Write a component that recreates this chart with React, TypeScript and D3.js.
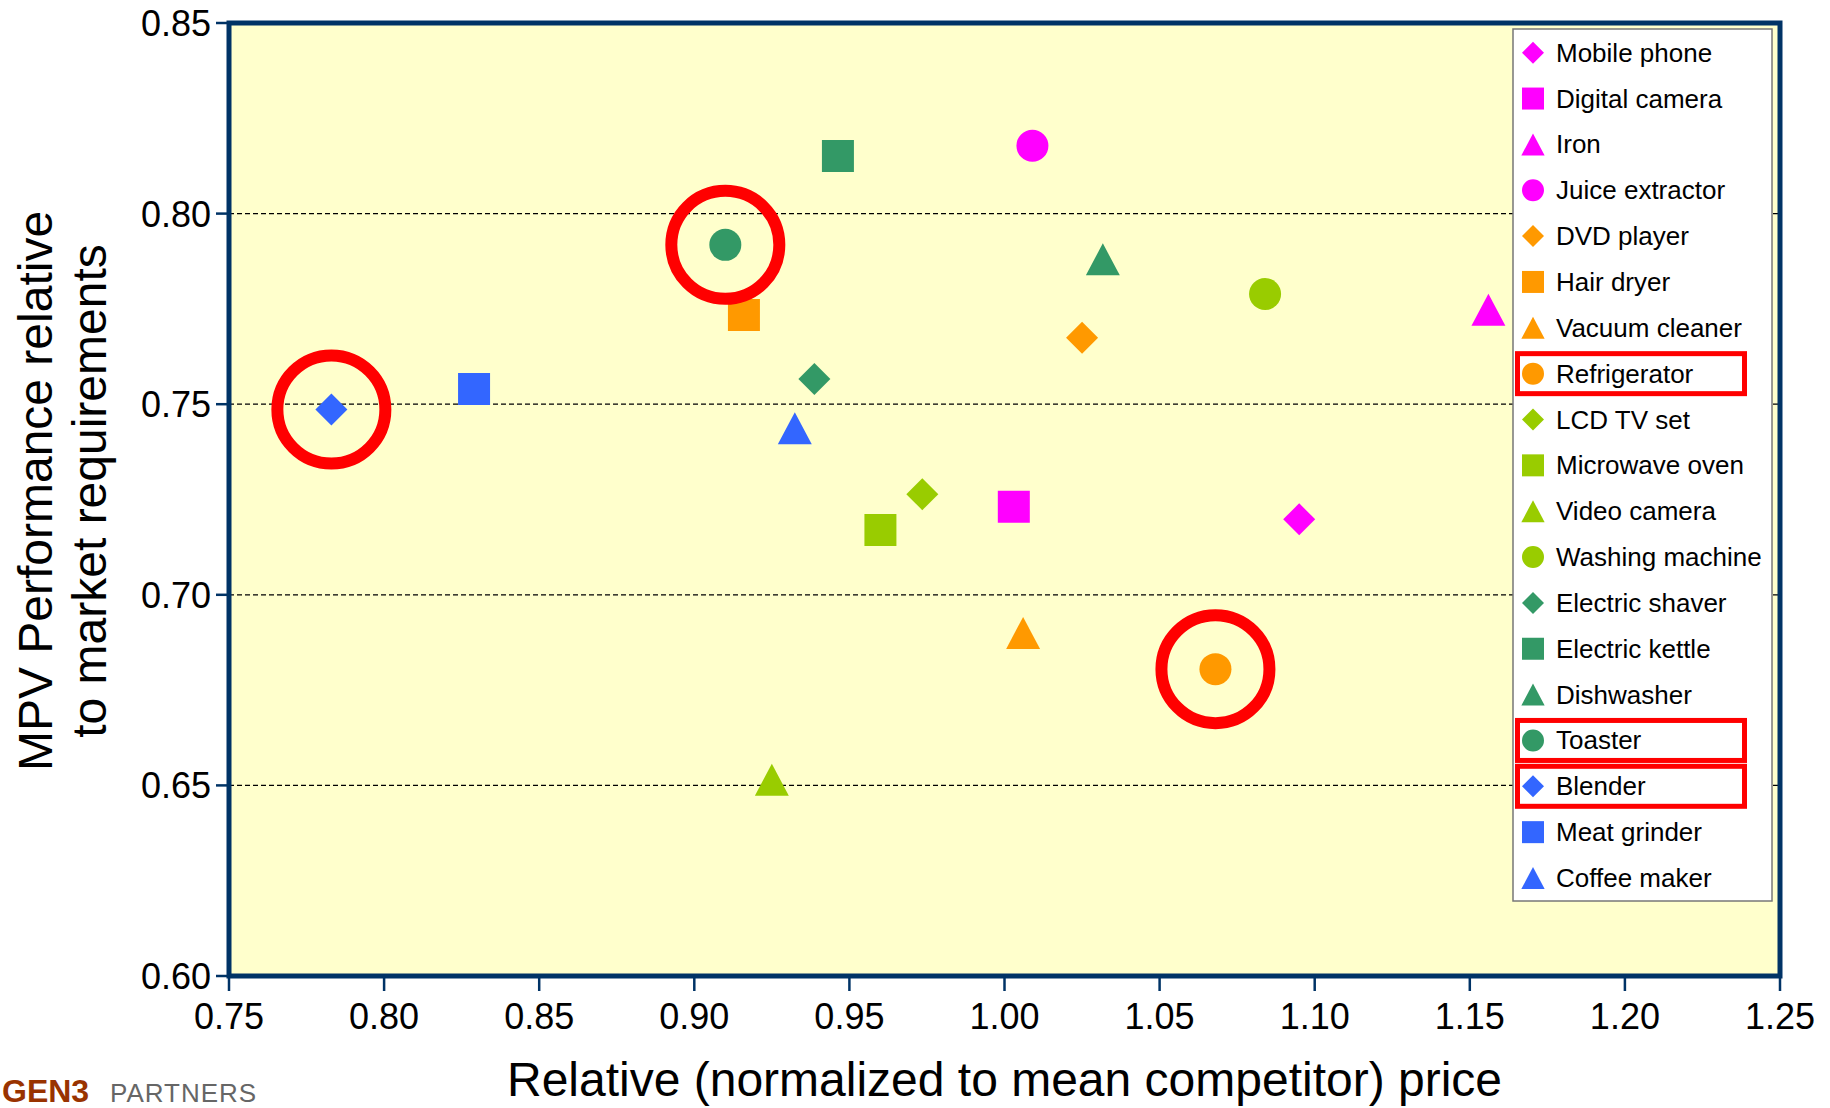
import React from "react";
import * as d3 from "d3";

const products = [
  "Mobile phone", "Digital camera", "Iron", "Juice extractor",
  "DVD player", "Hair dryer", "Vacuum cleaner", "Refrigerator",
  "LCD TV set", "Microwave oven", "Video camera", "Washing machine",
  "Electric shaver", "Electric kettle", "Dishwasher", "Toaster",
  "Blender", "Meat grinder", "Coffee maker",
];
const priceValues = [
  1.095, 1.003, 1.156, 1.009,
  1.025, 0.916, 1.006, 1.068,
  0.9735, 0.960, 0.925, 1.084,
  0.9387, 0.9463, 1.0317, 0.910,
  0.783, 0.829, 0.9324,
];
const performanceValues = [
  0.7198, 0.7231, 0.7748, 0.8178,
  0.7674, 0.7734, 0.690, 0.6805,
  0.7264, 0.717, 0.6515, 0.7789,
  0.7566, 0.8151, 0.788, 0.7918,
  0.7486, 0.754, 0.7437,
];
const groupColors = ["#FF00FF", "#FF9900", "#99CC00", "#339966", "#3366FF"];
const shapeOrder = ["diamond", "square", "triangle", "circle"];
const highlighted = ["Refrigerator", "Toaster", "Blender"];
const xTicks = [0.75, 0.8, 0.85, 0.9, 0.95, 1.0, 1.05, 1.1, 1.15, 1.2, 1.25];
const yTicks = [0.6, 0.65, 0.7, 0.75, 0.8, 0.85];
const xTitle = "Relative (normalized to mean competitor) price";
const yTitleLines = ["MPV Performance relative", "to market requirements"];

function colorOf(i: number) {
  return groupColors[Math.floor(i / 4)];
}
function shapeOf(i: number) {
  if (i >= 16) return ["diamond", "square", "triangle"][i - 16];
  return shapeOrder[i % 4];
}
function markerPath(shape: string, cx: number, cy: number, s: number) {
  const h = s / 2;
  if (shape === "square") {
    return `M${cx - h},${cy - h}H${cx + h}V${cy + h}H${cx - h}Z`;
  }
  if (shape === "diamond") {
    return `M${cx},${cy - h}L${cx + h},${cy}L${cx},${cy + h}L${cx - h},${cy}Z`;
  }
  if (shape === "triangle") {
    const w = s * 1.06 / 2;
    return `M${cx},${cy - h}L${cx + w},${cy + h}L${cx - w},${cy + h}Z`;
  }
  const p = d3.path();
  p.arc(cx, cy, h, 0, Math.PI * 2);
  return p.toString();
}

export default function App() {
  const left = 229, right = 1780, top = 23, bottom = 976;
  const x = d3.scaleLinear().domain([0.75, 1.25]).range([left, right]);
  const y = d3.scaleLinear().domain([0.6, 0.85]).range([bottom, top]);
  const axisColor = "#003366";
  const fmt = d3.format(".2f");

  const legX = 1513, legY = 29, legW = 259, legH = 872;
  const rowY = (i: number) => 52.7 + i * 45.85;

  return (
    <svg
      width={1830}
      height={1108}
      style={{ position: "absolute", left: 0, top: 0, background: "#ffffff", overflow: "hidden" }}
      fontFamily="Liberation Sans, Arial, sans-serif"
    >
      <rect x={left} y={top} width={right - left} height={bottom - top} fill="#FFFFCC" />
      {yTicks.filter((t) => t > 0.6 && t < 0.85).map((t) => (
        <line key={"g" + t} x1={left} x2={right} y1={y(t)} y2={y(t)} stroke="#000" strokeWidth={1.3} strokeDasharray="5,3" />
      ))}
      {/* markers */}
      {products.map((name, i) => (
        <path key={name} d={markerPath(shapeOf(i), x(priceValues[i]), y(performanceValues[i]), 32)} fill={colorOf(i)} />
      ))}
      {/* highlight circles */}
      {highlighted.map((name) => {
        const i = products.indexOf(name);
        return (
          <circle key={"h" + name} cx={x(priceValues[i])} cy={y(performanceValues[i])} r={54} fill="none" stroke="#FF0000" strokeWidth={12} />
        );
      })}
      {/* legend */}
      <rect x={legX} y={legY} width={legW} height={legH} fill="#ffffff" stroke="#777" strokeWidth={1.5} />
      {products.map((name, i) => (
        <g key={"l" + name}>
          <path d={markerPath(shapeOf(i), 1533, rowY(i), 22)} fill={colorOf(i)} />
          <text x={1556} y={rowY(i) + 9} fontSize={26} fill="#000">{name}</text>
        </g>
      ))}
      {highlighted.map((name) => {
        const i = products.indexOf(name);
        return (
          <rect key={"lb" + name} x={1517.5} y={rowY(i) - 20} width={227} height={40} fill="none" stroke="#FF0000" strokeWidth={5} />
        );
      })}
      {/* frame */}
      <rect x={left} y={top} width={right - left} height={bottom - top} fill="none" stroke={axisColor} strokeWidth={5} />
      {/* y ticks */}
      {yTicks.map((t) => (
        <g key={"yt" + t}>
          <line x1={216} x2={left} y1={y(t)} y2={y(t)} stroke={axisColor} strokeWidth={2.5} />
          <text x={211} y={y(t) + 13} fontSize={36} textAnchor="end" fill="#000">{fmt(t)}</text>
        </g>
      ))}
      {/* x ticks */}
      {xTicks.map((t) => (
        <g key={"xt" + t}>
          <line x1={x(t)} x2={x(t)} y1={bottom} y2={bottom + 15} stroke={axisColor} strokeWidth={2.5} />
          <text x={x(t)} y={1029} fontSize={36} textAnchor="middle" fill="#000">{fmt(t)}</text>
        </g>
      ))}
      {/* titles */}
      <text x={(left + right) / 2} y={1096} fontSize={48} textAnchor="middle" fill="#000">{xTitle}</text>
      {yTitleLines.map((line, k) => (
        <text key={line} transform={`translate(${52 + k * 54},${491}) rotate(-90)`} fontSize={48} textAnchor="middle" fill="#000">{line}</text>
      ))}
      {/* logo */}
      <text x={2} y={1102} fontSize={32} fontWeight="bold" fill="#993300">GEN3</text>
      <text x={110} y={1102} fontSize={26} fill="#666666" letterSpacing={1}>PARTNERS</text>
    </svg>
  );
}
